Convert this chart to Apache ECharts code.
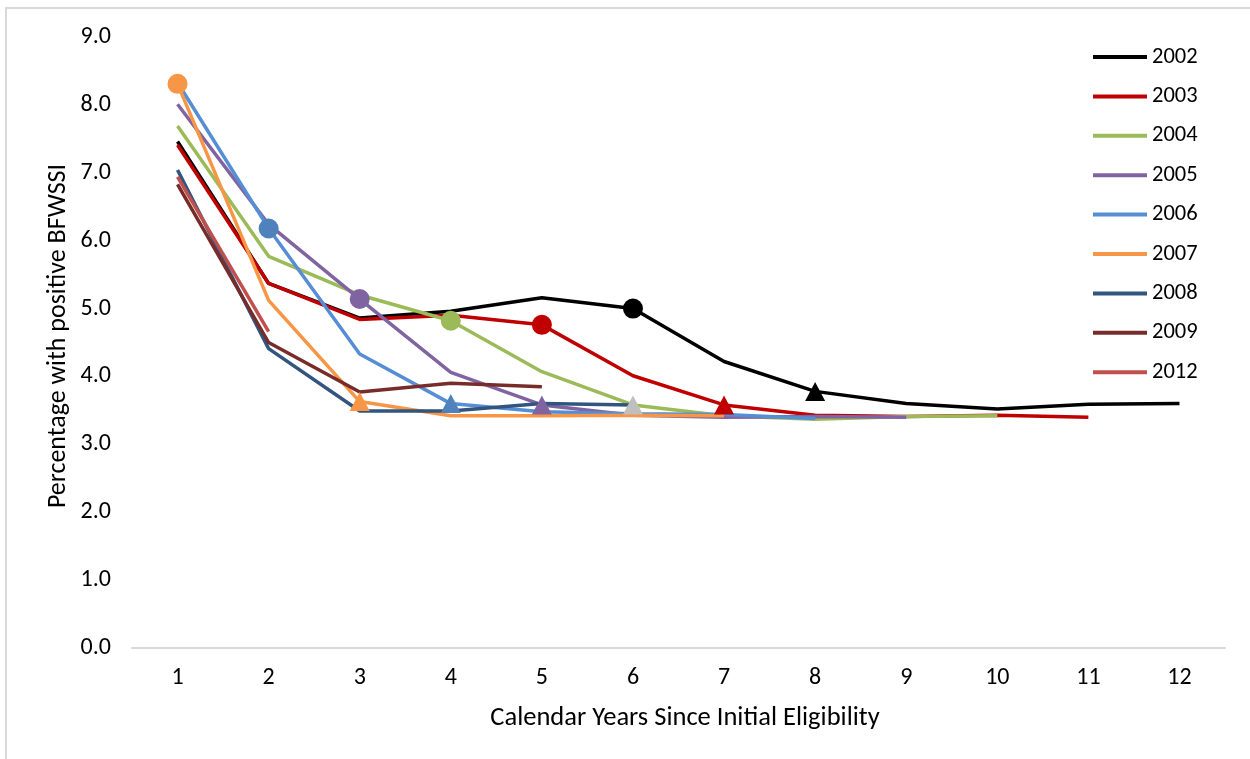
<!DOCTYPE html>
<html>
<head>
<meta charset="utf-8">
<script src="https://cdn.jsdelivr.net/npm/echarts@6/dist/echarts.min.js"></script>
<style>
  html, body { margin: 0; padding: 0; background: #fff; }
  #chart { width: 1250px; height: 759px; }
</style>
</head>
<body>
<div id="chart"></div>
<script>
// years since initial eligibility
const years = ["1", "2", "3", "4", "5", "6", "7", "8", "9", "10", "11", "12"];
const yTicks = [0, 1, 2, 3, 4, 5, 6, 7, 8, 9];

const s2002 = [7.46, 5.37, 4.86, 4.96, 5.16, 5.0, 4.22, 3.78, 3.6, 3.52, 3.59, 3.6];
const s2003 = [7.41, 5.37, 4.84, 4.9, 4.76, 4.01, 3.58, 3.43, 3.41, 3.43, 3.4];
const s2004 = [7.69, 5.77, 5.2, 4.82, 4.07, 3.58, 3.42, 3.37, 3.41, 3.42];
const s2005 = [8.01, 6.24, 5.14, 4.06, 3.58, 3.43, 3.4, 3.41, 3.4];
const s2006 = [8.33, 6.18, 4.33, 3.6, 3.48, 3.45, 3.44, 3.38];
const s2007 = [8.31, 5.12, 3.63, 3.42, 3.42, 3.43, 3.42];
const s2008 = [7.04, 4.41, 3.49, 3.49, 3.6, 3.58];
const s2009 = [6.83, 4.5, 3.77, 3.9, 3.85];
const s2012 = [6.94, 4.66];

const cohorts = [
  { name: "2002", data: s2002, color: "#000000", circle: 5, triangle: 7, mark: "#000000" },
  { name: "2003", data: s2003, color: "#C00000", circle: 4, triangle: 6, mark: "#C00000" },
  { name: "2004", data: s2004, color: "#9BBB59", circle: 3, triangle: 5, mark: "#9BBB59", triMark: "#BFBFBF" },
  { name: "2005", data: s2005, color: "#8064A2", circle: 2, triangle: 4, mark: "#8064A2" },
  { name: "2006", data: s2006, color: "#558ED5", circle: 1, triangle: 3, mark: "#4F81BD" },
  { name: "2007", data: s2007, color: "#F79646", circle: 0, triangle: 2, mark: "#F79646" },
  { name: "2008", data: s2008, color: "#31557F" },
  { name: "2009", data: s2009, color: "#772C2A" },
  { name: "2012", data: s2012, color: "#C0504D" },
];

const font = "Carlito, Lato, sans-serif";
const chart = echarts.init(document.getElementById("chart"));

const series = cohorts.map((c) => ({
  name: c.name,
  type: "line",
  symbol: "none",
  showAllSymbol: true,
  lineStyle: { width: 3.5, color: c.color },
  itemStyle: { color: c.color },
  emphasis: { disabled: true },
  data: c.data.map((v, i) => {
    if (i === c.circle) {
      return { value: v, symbol: "circle", symbolSize: 20, itemStyle: { color: c.mark } };
    }
    if (i === c.triangle) {
      return { value: v, symbol: "triangle", symbolSize: [20, 19], itemStyle: { color: c.triMark || c.mark } };
    }
    return v;
  }),
}));

chart.setOption({
  animation: false,
  textStyle: { fontFamily: font },
  grid: { left: 132, right: 25, top: 37, bottom: 111 },
  legend: {
    orient: "vertical",
    left: 1093,
    top: 45,
    padding: 0,
    icon: "rect",
    itemWidth: 54,
    itemHeight: 4,
    itemGap: 15.4,
    textStyle: { fontSize: 22.5, color: "#000", lineHeight: 24, fontFamily: font },
    data: cohorts.map((c) => c.name),
  },
  xAxis: {
    type: "category",
    data: years,
    boundaryGap: true,
    axisLine: { lineStyle: { color: "#D9D9D9", width: 2 } },
    axisTick: { show: false },
    axisLabel: { color: "#000", fontSize: 24, margin: 18 },
  },
  yAxis: {
    type: "value",
    min: yTicks[0],
    max: yTicks[yTicks.length - 1],
    interval: 1,
    axisLine: { show: false },
    axisTick: { show: false },
    splitLine: { show: false },
    axisLabel: { color: "#000", fontSize: 24, margin: 21, formatter: (v) => v.toFixed(1) },
  },
  graphic: [
    {
      type: "rect",
      z: -10,
      shape: { x: 6, y: 8, width: 1300, height: 800 },
      style: { fill: "none", stroke: "#D9D9D9", lineWidth: 2 },
    },
    {
      type: "text",
      x: 685,
      y: 718,
      style: { text: "Calendar Years Since Initial Eligibility", fontSize: 26.5, fontFamily: font, fill: "#000", align: "center", verticalAlign: "middle" },
    },
    {
      type: "text",
      x: 58,
      y: 336,
      rotation: Math.PI / 2,
      style: { text: "Percentage with positive BFWSSI", fontSize: 26, fontFamily: font, fill: "#000", align: "center", verticalAlign: "middle" },
    },
  ],
  series: series,
});
</script>
</body>
</html>
